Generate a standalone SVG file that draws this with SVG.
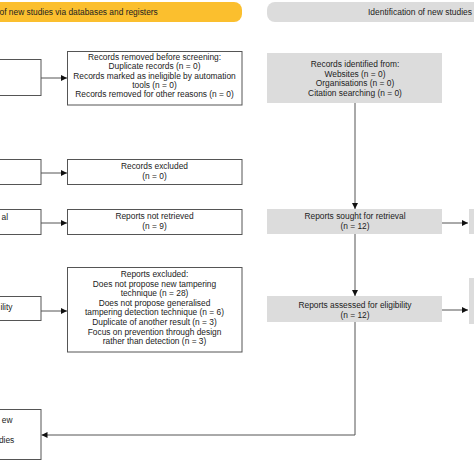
<svg xmlns="http://www.w3.org/2000/svg" width="474" height="474" viewBox="0 0 474 474">
<defs>
<style>
text{font-family:"Liberation Sans",Arial,sans-serif;font-size:8.4px;fill:#222;}
.c{text-anchor:middle;}
.e{text-anchor:end;}
.wb{fill:#fff;stroke:#555;stroke-width:1;}
.gb{fill:#dcdcdc;stroke:none;}
.ln{fill:none;stroke:#555;stroke-width:1;}
</style>
<marker id="ah" viewBox="0 0 10 10" refX="10" refY="5" markerWidth="7" markerHeight="6" markerUnits="userSpaceOnUse" orient="auto">
<path d="M0,0 L10,5 L0,10 z" fill="#111"/>
</marker>
</defs>
<rect width="474" height="474" fill="#fff"/>

<g id="header-db">
<rect x="-20" y="2" width="262" height="20" rx="8" fill="#fbbf2e"/>
<text x="-0.5" y="15">of new studies via databases and registers</text>
</g>
<g id="header-other">
<rect x="267" y="2" width="230" height="20" rx="8" fill="#dcdcdc"/>
<text x="368" y="15" textLength="104" lengthAdjust="spacingAndGlyphs">Identification of new studies</text>
</g>

<g id="left-identified"><rect class="wb" x="-150" y="59.5" width="191" height="36"/></g>
<g id="left-screened"><rect class="wb" x="-150" y="159.5" width="191" height="25"/></g>
<g id="left-sought"><rect class="wb" x="-150" y="209.5" width="191" height="25"/><text class="e" x="8" y="220">al</text></g>
<g id="left-assessed"><rect class="wb" x="-150" y="296.5" width="191" height="24"/><text class="e" x="12.5" y="310">ility</text></g>
<g id="left-included"><rect class="wb" x="-150" y="409.5" width="191" height="50"/><text class="e" x="12.5" y="423">ew</text><text class="e" x="14.3" y="443">dies</text></g>

<g id="removed-before">
<rect class="wb" x="67.5" y="51.5" width="174.5" height="53.5"/>
<text class="c" x="154.5" y="60">Records removed before screening:</text>
<text class="c" x="154.5" y="69.3">Duplicate records (n = 0)</text>
<text class="c" x="154.5" y="78.6">Records marked as ineligible by automation</text>
<text class="c" x="154.5" y="87.9">tools (n = 0)</text>
<text class="c" x="154.5" y="97.2">Records removed for other reasons (n = 0)</text>
</g>
<g id="records-excluded">
<rect class="wb" x="67.5" y="159.5" width="174.5" height="25"/>
<text class="c" x="154.5" y="169">Records excluded</text>
<text class="c" x="154.5" y="178.5">(n = 0)</text>
</g>
<g id="not-retrieved">
<rect class="wb" x="67.5" y="209.5" width="174.5" height="25"/>
<text class="c" x="154.5" y="219">Reports not retrieved</text>
<text class="c" x="154.5" y="228.5">(n = 9)</text>
</g>
<g id="reports-excluded">
<rect class="wb" x="67.5" y="267.5" width="174.5" height="84.5"/>
<text class="c" x="154.5" y="277">Reports excluded:</text>
<text class="c" x="154.5" y="286.6">Does not propose new tampering</text>
<text class="c" x="154.5" y="296.2">technique (n =  28)</text>
<text class="c" x="154.5" y="305.8">Does not propose generalised</text>
<text class="c" x="154.5" y="315.4">tampering detection technique (n =  6)</text>
<text class="c" x="154.5" y="325">Duplicate of another result (n =  3)</text>
<text class="c" x="154.5" y="334.6">Focus on prevention through design</text>
<text class="c" x="154.5" y="344.2">rather than detection (n =  3)</text>
</g>

<g id="records-identified">
<rect class="gb" x="267" y="53" width="175" height="50"/>
<text class="c" x="355" y="67">Records identified from:</text>
<text class="c" x="355" y="76.5">Websites (n = 0)</text>
<text class="c" x="355" y="86">Organisations (n = 0)</text>
<text class="c" x="355" y="95.5">Citation searching (n = 0)</text>
</g>
<g id="reports-sought">
<rect class="gb" x="267" y="209" width="175" height="25"/>
<text class="c" x="355" y="219">Reports sought for retrieval</text>
<text class="c" x="355" y="228.5">(n = 12)</text>
</g>
<g id="reports-assessed">
<rect class="gb" x="267" y="296" width="175" height="26"/>
<text class="c" x="355" y="308">Reports assessed for eligibility</text>
<text class="c" x="355" y="317.5">(n = 12)</text>
</g>
<g id="right-not-retrieved"><rect class="gb" x="469" y="209" width="40" height="25"/></g>
<g id="right-excluded"><rect class="gb" x="469" y="278" width="40" height="46"/></g>

<g id="connectors">
<line class="ln" x1="41" y1="78" x2="67" y2="78" marker-end="url(#ah)"/>
<line class="ln" x1="41" y1="173" x2="67" y2="173" marker-end="url(#ah)"/>
<line class="ln" x1="41" y1="223" x2="67" y2="223" marker-end="url(#ah)"/>
<line class="ln" x1="41" y1="311" x2="67" y2="311" marker-end="url(#ah)"/>
<line class="ln" x1="355" y1="103" x2="355" y2="209" marker-end="url(#ah)"/>
<line class="ln" x1="355" y1="234" x2="355" y2="296" marker-end="url(#ah)"/>
<line class="ln" x1="442" y1="223" x2="468" y2="223" marker-end="url(#ah)"/>
<line class="ln" x1="442" y1="310" x2="468" y2="310" marker-end="url(#ah)"/>
<path class="ln" d="M355,322 V435 H41.5" marker-end="url(#ah)"/>
</g>
</svg>
